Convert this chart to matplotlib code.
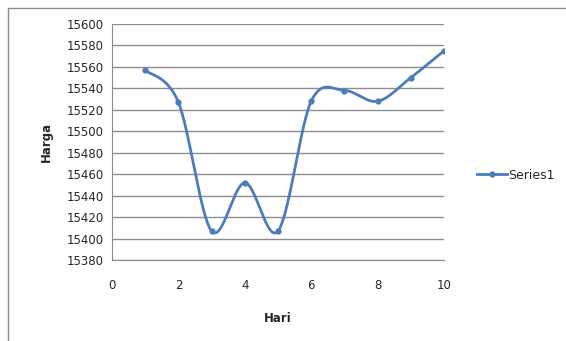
import numpy as np
import matplotlib
matplotlib.use('Agg')
from matplotlib import pyplot as plt
from matplotlib.patches import Rectangle

# data
hari = [1, 2, 3, 4, 5, 6, 7, 8, 9, 10]
harga = [15557, 15527, 15407, 15452, 15407, 15528, 15538, 15528, 15550, 15575]
xticks = [0, 2, 4, 6, 8, 10]
yticks = list(range(15380, 15601, 20))

blue = '#4A7EBB'
grid_c = '#8C8C8C'
txt_c = '#262626'

# smooth line like Excel (Catmull-Rom style bezier)
def smooth(x, y, n=40):
    x = np.asarray(x, float)
    y = np.asarray(y, float)
    px = np.concatenate([[x[0]], x, [x[-1]]])
    py = np.concatenate([[y[0]], y, [y[-1]]])
    xs, ys = [], []
    t = np.linspace(0, 1, n)
    for i in range(1, len(px) - 2):
        p0 = np.array([px[i], py[i]])
        p3 = np.array([px[i + 1], py[i + 1]])
        c1 = p0 + (np.array([px[i + 1], py[i + 1]]) - np.array([px[i - 1], py[i - 1]])) / 6
        c2 = p3 - (np.array([px[i + 2], py[i + 2]]) - np.array([px[i], py[i]])) / 6
        b = ((1 - t) ** 3)[:, None] * p0 + (3 * (1 - t) ** 2 * t)[:, None] * c1 \
            + (3 * (1 - t) * t ** 2)[:, None] * c2 + (t ** 3)[:, None] * p3
        xs.extend(b[:, 0])
        ys.extend(b[:, 1])
    return xs, ys

fig = plt.figure(figsize=(5.66, 3.41), dpi=100)
fig.patches.append(Rectangle((8 / 566, -0.1), 1.2, 1 - 8 / 341 + 0.1,
                             transform=fig.transFigure, fill=False,
                             edgecolor='#8C8C8C', linewidth=1.0))
ax = fig.add_axes([112 / 566, 1 - 260 / 341, (444 - 112) / 566, (260 - 24) / 341])

sx, sy = smooth(hari, harga)
ax.plot(sx, sy, color=blue, linewidth=2.0, solid_capstyle='round')
ax.plot(hari, harga, linestyle='none', marker='o', markersize=3.5, color=blue)
# legend handle
ax.plot([], [], color=blue, linewidth=2.0, marker='o', markersize=3.5, label='Series1')

ax.set_xlim(0, 10)
ax.set_ylim(15380, 15600)
ax.set_xticks(xticks)
ax.set_yticks(yticks)
ax.yaxis.grid(True, color=grid_c, linewidth=1.0)
ax.set_axisbelow(True)
for s in ['top', 'right']:
    ax.spines[s].set_visible(False)
for s in ['left', 'bottom']:
    ax.spines[s].set_color(grid_c)
ax.tick_params(length=0, labelsize=8.5, colors=txt_c, pad=6)
ax.tick_params(axis='x', pad=14)

ax.set_xlabel('Hari', fontsize=8.5, fontweight='bold', color=txt_c, labelpad=14)
ax.set_ylabel('Harga', fontsize=8.5, fontweight='bold', color=txt_c, labelpad=10)

ax.legend(loc='center left', bbox_to_anchor=(1.065, 0.36), frameon=False,
          fontsize=9, handlelength=2.4, handletextpad=0.1, labelcolor=txt_c)

fig.savefig('out.png', dpi=100)
